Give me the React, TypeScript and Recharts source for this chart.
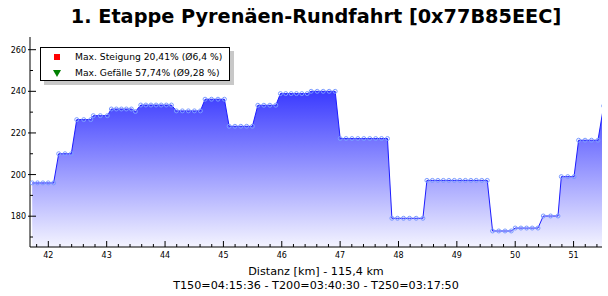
import React from 'react'
import { ComposedChart, Area, XAxis, YAxis } from 'recharts'

// elevation profile, km / m
const distances = [
  41.724, 41.815, 41.907, 41.998, 42.091,
  42.178, 42.286, 42.394,
  42.487, 42.607, 42.727,
  42.771, 42.891, 43.011,
  43.08, 43.166, 43.252, 43.337, 43.423,
  43.492,
  43.584, 43.672, 43.759, 43.847, 43.934, 44.022, 44.109,
  44.194, 44.297, 44.4, 44.503, 44.606,
  44.686, 44.796, 44.907, 45.017,
  45.098, 45.198, 45.298, 45.398, 45.497,
  45.59, 45.693, 45.796, 45.898,
  45.977, 46.068, 46.161, 46.252, 46.344, 46.435,
  46.504, 46.607, 46.71, 46.812, 46.915,
  47.001, 47.102, 47.203, 47.304, 47.406, 47.508, 47.609, 47.71, 47.811,
  47.887, 47.983, 48.086, 48.189, 48.303, 48.418,
  48.487, 48.581, 48.675, 48.769, 48.863, 48.957, 49.051, 49.146, 49.24, 49.333, 49.427, 49.521,
  49.612, 49.718, 49.826, 49.932,
  50.0, 50.098, 50.195, 50.291, 50.39,
  50.481, 50.606, 50.733,
  50.79, 50.9, 51.008,
  51.086, 51.197, 51.307, 51.418,
  51.516,
]

const elevations = [
  196, 196, 196, 196, 196,
  210, 210, 210,
  226.4, 226.4, 226.4,
  228.3, 228.3, 228.3,
  231.5, 231.5, 231.5, 231.5, 231.5,
  230.3,
  233.4, 233.4, 233.4, 233.4, 233.4, 233.4, 233.4,
  230.6, 230.6, 230.6, 230.6, 230.6,
  236.2, 236.2, 236.2, 236.2,
  223.2, 223.2, 223.2, 223.2, 223.2,
  233.3, 233.3, 233.3, 233.3,
  238.9, 238.9, 238.9, 238.9, 238.9, 238.9,
  240, 240, 240, 240, 240,
  217.3, 217.3, 217.3, 217.3, 217.3, 217.3, 217.3, 217.3, 217.3,
  179, 179, 179, 179, 179, 179,
  197.2, 197.2, 197.2, 197.2, 197.2, 197.2, 197.2, 197.2, 197.2, 197.2, 197.2, 197.2,
  172.9, 172.9, 172.9, 172.9,
  174.3, 174.3, 174.3, 174.3, 174.3,
  180.1, 180.1, 180.1,
  199, 199, 199,
  216.5, 216.5, 216.5, 216.5,
  233,
]

const xMajor = [42, 43, 44, 45, 46, 47, 48, 49, 50, 51]
const xTicks = [
  41.8, 42, 42.2, 42.4, 42.6, 42.8, 43, 43.2, 43.4, 43.6, 43.8, 44, 44.2, 44.4, 44.6, 44.8,
  45, 45.2, 45.4, 45.6, 45.8, 46, 46.2, 46.4, 46.6, 46.8, 47, 47.2, 47.4, 47.6, 47.8,
  48, 48.2, 48.4, 48.6, 48.8, 49, 49.2, 49.4, 49.6, 49.8, 50, 50.2, 50.4, 50.6, 50.8,
  51, 51.2, 51.4,
]
const yMajor = [180, 200, 220, 240, 260]
const yTicks = [170, 180, 190, 200, 210, 220, 230, 240, 250, 260]

const title = '1. Etappe Pyrenäen-Rundfahrt [0x77B85EEC]'
const footer = ['Distanz [km] - 115,4 km', 'T150=04:15:36 - T200=03:40:30 - T250=03:17:50']
const legendItems = [
  { text: 'Max. Steigung 20,41% (Ø6,4 %)', color: '#ff0000', shape: 'square' },
  { text: 'Max. Gefälle 57,74% (Ø9,28 %)', color: '#008000', shape: 'triangle' },
]

const data = distances.map((km, i) => ({ km, ele: elevations[i] }))

const font = 'DejaVu Sans, Verdana, sans-serif'

function BottomTick(props: any) {
  const { x, y, payload } = props
  const major = xMajor.includes(payload.value)
  return (
    <g>
      <line x1={x} x2={x} y1={y - (major ? 6 : 3)} y2={y} stroke='#000' />
      {major && (
        <text x={x} y={y + 11} textAnchor='middle' fontSize={8} fontFamily={font} fill='#000'>
          {payload.value}
        </text>
      )}
    </g>
  )
}

function TopTick(props: any) {
  const { x, y, payload } = props
  const major = xMajor.includes(payload.value)
  return <line x1={x} x2={x} y1={y} y2={y + (major ? 5 : 3)} stroke='#000' />
}

function LeftTick(props: any) {
  const { x, y, payload } = props
  const major = yMajor.includes(payload.value)
  return (
    <g>
      <line x1={major ? x - 2 : x} x2={x + (major ? 6 : 3)} y1={y} y2={y} stroke='#000' />
      {major && (
        <text x={x - 4} y={y + 3} textAnchor='end' fontSize={8} fontFamily={font} fill='#000'>
          {payload.value}
        </text>
      )}
    </g>
  )
}

function RightTick(props: any) {
  const { x, y, payload } = props
  const major = yMajor.includes(payload.value)
  return <line x1={x - (major ? 5 : 3)} x2={x} y1={y} y2={y} stroke='#000' />
}

export default function App() {
  return (
    <div style={{ position: 'absolute', left: 0, top: 0, width: 608, height: 296, background: '#fff' }}>
      <div
        style={{
          position: 'absolute', left: 30, width: 572, top: 5, textAlign: 'center',
          fontFamily: font, fontWeight: 'bold', fontSize: 19.3, lineHeight: '24px',
        }}
      >
        {title}
      </div>
      <ComposedChart
        width={608}
        height={296}
        data={data}
        margin={{ top: 37, right: 6, bottom: 0, left: 0 }}
      >
        <defs>
          <linearGradient id='eleFill' x1='0' y1='0' x2='0' y2='1'>
            <stop offset='0%' stopColor='#3a3aff' />
            <stop offset='100%' stopColor='#f4f4ff' />
          </linearGradient>
        </defs>
        <XAxis
          dataKey='km'
          type='number'
          domain={[41.686, 51.487]}
          allowDataOverflow
          ticks={xTicks}
          interval={0}
          height={49}
          tickSize={0}
          tickMargin={0}
          tickLine={false}
          axisLine={{ stroke: '#000' }}
          tick={<BottomTick />}
        />
        <XAxis
          xAxisId='top'
          dataKey='km'
          type='number'
          orientation='top'
          domain={[41.686, 51.487]}
          allowDataOverflow
          ticks={xTicks}
          interval={0}
          height={0}
          tickSize={0}
          tickMargin={0}
          tickLine={false}
          axisLine={{ stroke: '#000' }}
          tick={<TopTick />}
        />
        <YAxis
          type='number'
          domain={[165.2, 266.1]}
          allowDataOverflow
          ticks={yTicks}
          interval={0}
          width={30}
          tickSize={0}
          tickMargin={0}
          tickLine={false}
          axisLine={{ stroke: '#000' }}
          tick={<LeftTick />}
        />
        <YAxis
          yAxisId='right'
          orientation='right'
          type='number'
          domain={[165.2, 266.1]}
          allowDataOverflow
          ticks={yTicks}
          interval={0}
          width={0}
          tickSize={0}
          tickMargin={0}
          tickLine={false}
          axisLine={{ stroke: '#000' }}
          tick={<RightTick />}
        />
        <Area
          type='linear'
          dataKey='ele'
          stroke='#1c1cff'
          strokeWidth={1}
          fill='url(#eleFill)'
          fillOpacity={1}
          dot={{ r: 2, stroke: '#7b9bff', strokeWidth: 1, fill: 'none' }}
          activeDot={false}
          isAnimationActive={false}
        />
      </ComposedChart>
      <div
        style={{
          position: 'absolute', left: 40, top: 47, width: 188, height: 32,
          border: '1px solid #000', background: '#fff', boxShadow: '4px 4px 0 #c8c8c8',
          fontFamily: font, fontSize: 9.2,
        }}
      >
        {legendItems.map((item, i) => (
          <div key={i} style={{ position: 'absolute', left: 0, top: 3 + i * 16, height: 12, width: 188 }}>
            <svg width={10} height={10} style={{ position: 'absolute', left: 11, top: 1 }}>
              {item.shape === 'square' ? (
                <rect x={2} y={2} width={6} height={6} fill={item.color} />
              ) : (
                <polygon points='1,2 9,2 5,9' fill={item.color} />
              )}
            </svg>
            <span style={{ position: 'absolute', left: 34, top: 0, lineHeight: '12px', whiteSpace: 'nowrap' }}>
              {item.text}
            </span>
          </div>
        ))}
      </div>
      {footer.map((line, i) => (
        <div
          key={i}
          style={{
            position: 'absolute', left: 30, width: 572, top: 265 + i * 14, textAlign: 'center',
            fontFamily: font, fontSize: 11.2, lineHeight: '14px',
          }}
        >
          {line}
        </div>
      ))}
    </div>
  )
}
